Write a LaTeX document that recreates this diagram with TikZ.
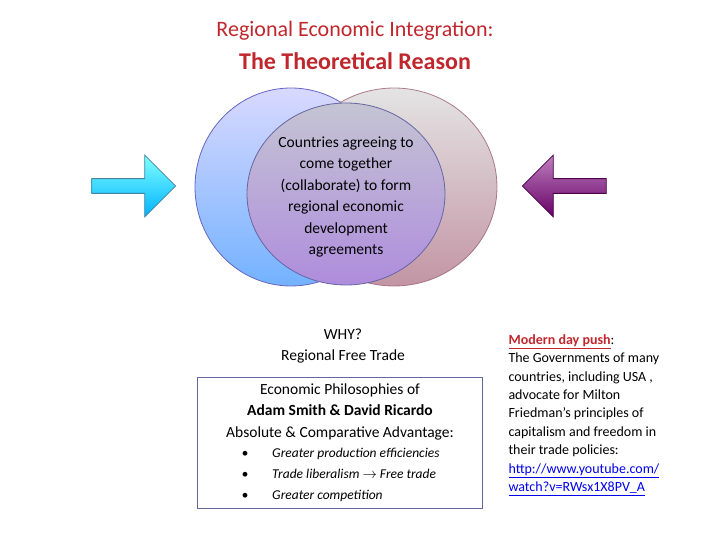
\documentclass[tikz,border=0pt]{standalone}
\usepackage{fontspec}
\setmainfont{Carlito}
\usetikzlibrary{shapes.arrows}
\definecolor{tred}{HTML}{C0272D}
\definecolor{link}{HTML}{0000EE}
\begin{document}
\begin{tikzpicture}[x=1pt,y=-1pt,
  txt/.style={font=\fontsize{15.5}{21.5}\selectfont,align=center},
  arr/.style={single arrow,minimum height=84,minimum width=62,single arrow head extend=12pt,single arrow head indent=0pt,draw,line width=0.8pt}]
\useasboundingbox (0,0) rectangle (720,540);
\node[tred,font=\fontsize{22}{26}\selectfont] (t1) at (355,31) {Regional Economic Integration:};
\node[tred,font=\fontsize{24}{28}\selectfont\bfseries] (t2) at (355,61) {The Theoretical Reason};
\shade[top color=white!85!blue, bottom color=blue!55!cyan!55,draw=blue!60!black!60,line width=0.8pt] (291,187) ellipse (96 and 99);
\shade[top color=gray!25,bottom color=purple!40!gray!70,draw=purple!50!black!60,line width=0.8pt,opacity=0.85] (394,187) ellipse (103 and 99);
\shade[top color=blue!15!gray!40,bottom color=purple!40!blue!45,draw=blue!40!black!60,line width=0.8pt] (346,194) ellipse (99 and 91);
\node[txt] (c) at (346,197) {Countries agreeing to\\come together\\(collaborate) to form\\regional economic\\development\\agreements};
\node[arr,top color=cyan!50,bottom color=cyan!70!blue,draw=cyan!60!black] (la) at (130,186) {};
\node[arr,shape border rotate=180,top color=violet!50,bottom color=violet!80!black,draw=violet!60!black] (ra) at (568,186) {};
\node[txt] (why) at (343,346) {WHY?\\Regional Free Trade};
\draw[blue!40!black!60,line width=0.6pt] (197,377) rectangle (482,508);
\node[txt,anchor=north] (b1) at (340,380) {Economic Philosophies of\\\textbf{Adam Smith \& David Ricardo}\\Absolute \& Comparative Advantage:};
\node[font=\fontsize{13.5}{21}\selectfont\itshape,anchor=north west,align=left] (b2) at (238,445) {\textbullet\hspace{24pt}Greater production efficiencies\\\textbullet\hspace{24pt}Trade liberalism $\rightarrow$ Free trade\\\textbullet\hspace{24pt}Greater competition};
\node[font=\fontsize{14}{18.4}\selectfont,anchor=north west,align=left] (r) at (505,331) {\textcolor{tred}{\textbf{\underline{Modern day push}}}:\\The Governments of many\\countries, including USA ,\\advocate for Milton\\Friedman’s principles of\\capitalism and freedom in\\their trade policies:\\\textcolor{link}{\underline{http://www.youtube.com/}}\\\textcolor{link}{\underline{watch?v=RWsx1X8PV\_A}}};
\end{tikzpicture}
\end{document}
